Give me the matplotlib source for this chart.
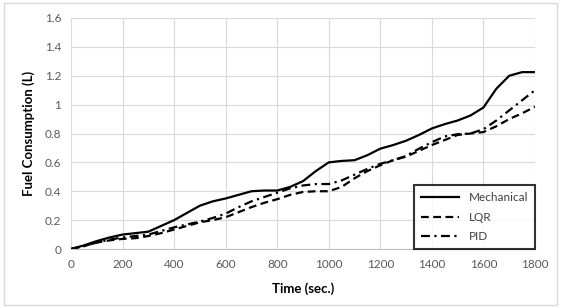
import numpy as np
import matplotlib
matplotlib.use("Agg")
import matplotlib.pyplot as plt
from matplotlib.patches import Rectangle

plt.rcParams['font.family'] = ['Lato', 'DejaVu Sans']

# time axis (sec.)
time = [0, 50, 100, 150, 200, 250, 300, 350, 400, 450, 500, 550, 600, 650,
        700, 750, 800, 850, 900, 950, 1000, 1050, 1100, 1150, 1200, 1250,
        1300, 1350, 1400, 1450, 1500, 1550, 1600, 1650, 1700, 1750, 1800]

# fuel consumption (L)
mechanical = [0, 0.025, 0.055, 0.08, 0.10, 0.11, 0.12, 0.16, 0.20, 0.25, 0.30,
              0.33, 0.35, 0.375, 0.40, 0.405, 0.405, 0.43, 0.47, 0.54, 0.60,
              0.61, 0.615, 0.65, 0.695, 0.72, 0.75, 0.79, 0.835, 0.865, 0.89,
              0.925, 0.98, 1.11, 1.20, 1.225, 1.225]
lqr = [0, 0.02, 0.045, 0.06, 0.07, 0.075, 0.09, 0.11, 0.135, 0.16, 0.185,
       0.20, 0.22, 0.255, 0.29, 0.32, 0.345, 0.375, 0.395, 0.40, 0.40,
       0.43, 0.49, 0.54, 0.58, 0.615, 0.64, 0.68, 0.72, 0.755, 0.79,
       0.80, 0.81, 0.85, 0.90, 0.94, 0.985]
pid = [0, 0.02, 0.045, 0.065, 0.08, 0.09, 0.10, 0.125, 0.15, 0.17, 0.19,
       0.215, 0.245, 0.29, 0.33, 0.36, 0.39, 0.42, 0.44, 0.45, 0.45,
       0.475, 0.515, 0.555, 0.59, 0.615, 0.645, 0.695, 0.74, 0.78, 0.795,
       0.80, 0.83, 0.89, 0.96, 1.03, 1.10]

xticks = np.arange(0, 1801, 200)
yticks = [0, 0.2, 0.4, 0.6, 0.8, 1, 1.2, 1.4, 1.6]
ylabels = ['0', '0.2', '0.4', '0.6', '0.8', '1', '1.2', '1.4', '1.6']

fig = plt.figure(figsize=(5.67, 3.08), dpi=100)
ax = fig.add_axes([71/567, 1-249/308, (535-71)/567, (249-18)/308])

# outer chart border like excel
fig.patches.append(Rectangle((4/567, 3/308), 553/567, 302/308, transform=fig.transFigure,
                             fill=False, edgecolor='#d9d9d9', lw=1))

ax.plot(time, mechanical, color='black', lw=1.6, label='Mechanical')
ax.plot(time, lqr, color='black', lw=1.6, linestyle=(0, (3.5, 2)), label='LQR')
ax.plot(time, pid, color='black', lw=1.6, linestyle=(0, (4, 2, 1, 2)), label='PID')

ax.set_xlim(0, 1800)
ax.set_ylim(0, 1.6)
ax.set_xticks(xticks)
ax.set_yticks(yticks)
ax.set_yticklabels(ylabels)
ax.grid(True, color='#d9d9d9', lw=0.8)
ax.set_axisbelow(True)
for s in ['top', 'right', 'left']:
    ax.spines[s].set_visible(False)
ax.spines['bottom'].set_color('#bfbfbf')
ax.tick_params(length=0, labelsize=8.5, labelcolor='#595959', pad=7)

ax.set_xlabel('Time (sec.)', fontsize=9.5, fontweight='bold', labelpad=9)
ax.set_ylabel('Fuel Consumption (L)', fontsize=9.5, fontweight='bold', labelpad=7)

leg = ax.legend(loc='lower right', bbox_to_anchor=(1.0, 0.0), fontsize=8.5,
                frameon=True, fancybox=False, edgecolor='black', handlelength=3.2,
                borderpad=0.6, labelspacing=0.7, borderaxespad=0)
leg.get_frame().set_linewidth(1.5)
for t in leg.get_texts():
    t.set_color('#404040')

fig.savefig('out.png', dpi=100)
